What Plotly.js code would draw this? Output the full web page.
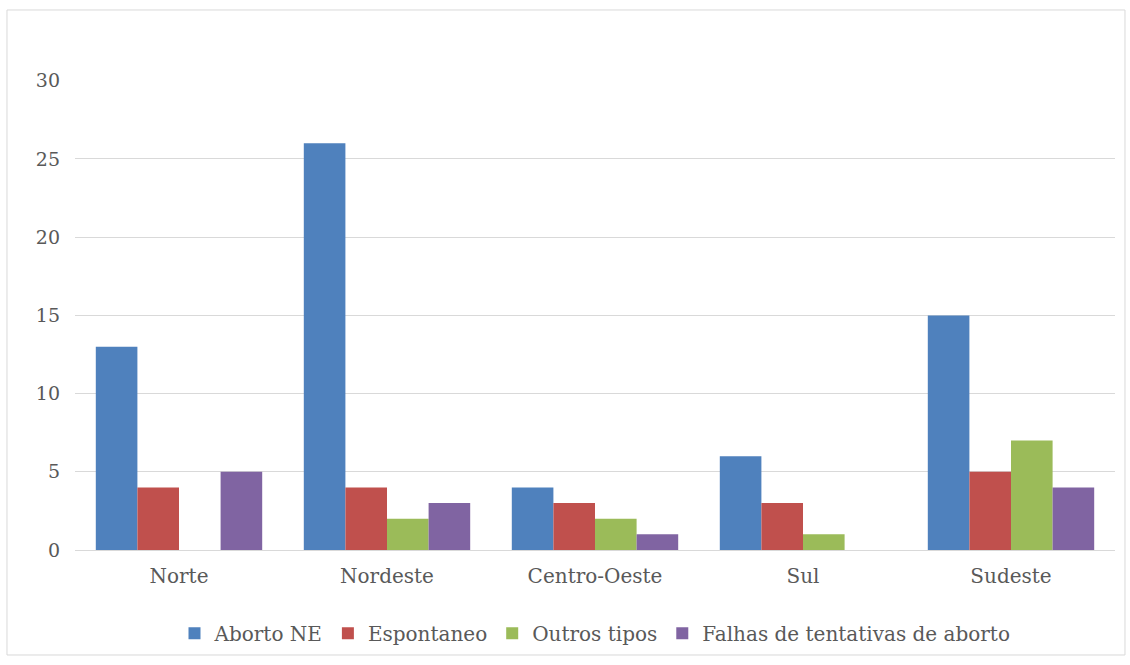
<!DOCTYPE html>
<html>
<head>
<meta charset="utf-8">
<script src="https://cdn.plot.ly/plotly-3.0.1.min.js"></script>
<style>html,body{margin:0;padding:0;background:#fff;}#chart{width:1130px;height:665px;}</style>
</head>
<body>
<div id="chart"></div>
<script>
const categories = ["Norte", "Nordeste", "Centro-Oeste", "Sul", "Sudeste"];
const seriesNames = ["Aborto NE", "Espontaneo", "Outros tipos", "Falhas de tentativas de aborto"];
const abortoNE = [13, 26, 4, 6, 15];
const espontaneo = [4, 4, 3, 3, 5];
const outrosTipos = [0, 2, 2, 1, 7];
const falhas = [5, 3, 1, 0, 4];
const colors = ["#4F81BD", "#C0504D", "#9BBB59", "#8064A2"];
const yTicks = [0, 5, 10, 15, 20, 25, 30];

const values = [abortoNE, espontaneo, outrosTipos, falhas];
const traces = values.map((v, i) => ({
  type: "bar",
  name: seriesNames[i],
  x: categories,
  y: v,
  marker: {color: colors[i]},
  hoverinfo: "x+y+name"
}));

const fam = "DejaVu Serif, Liberation Serif, serif";
const gray = "#595959";

const layout = {
  width: 1130,
  height: 665,
  margin: {l: 75, r: 15, t: 80, b: 115},
  paper_bgcolor: "#ffffff",
  plot_bgcolor: "#ffffff",
  font: {family: fam, size: 20, color: gray},
  barmode: "group",
  bargap: 0.2,
  bargroupgap: 0,
  showlegend: true,
  legend: {
    orientation: "h",
    x: 0.5, xanchor: "center",
    y: -0.177, yanchor: "middle",
    font: {family: fam, size: 20, color: gray},
    itemwidth: 30,
    traceorder: "normal"
  },
  xaxis: {
    showgrid: false,
    showline: false,
    zeroline: false,
    ticks: "",
    tickfont: {family: fam, size: 20, color: gray},
    ticklabelstandoff: 12
  },
  yaxis: {
    range: [0, 30.05],
    tickvals: yTicks,
    ticktext: yTicks.map(String),
    showgrid: true,
    gridcolor: "#d9d9d9",
    gridwidth: 1,
    zeroline: true,
    zerolinecolor: "#d9d9d9",
    zerolinewidth: 1,
    showline: false,
    ticks: "",
    ticklabelstandoff: 14,
    tickfont: {family: fam, size: 19, color: gray}
  },
  shapes: [{
    type: "rect", xref: "paper", yref: "paper",
    x0: -0.0654, x1: 1.0096, y0: -0.2234, y1: 1.149,
    line: {color: "#d9d9d9", width: 1},
    fillcolor: "rgba(0,0,0,0)",
    layer: "below"
  }]
};

Plotly.newPlot("chart", traces, layout, {displayModeBar: false, responsive: false});
</script>
</body>
</html>
